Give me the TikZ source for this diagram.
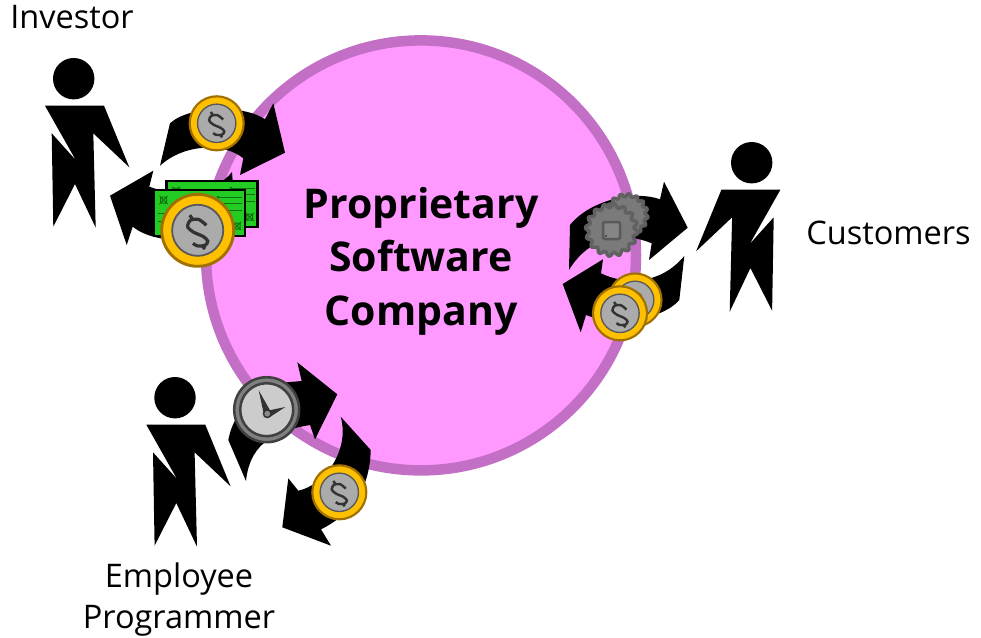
\documentclass[tikz,border=0pt]{standalone}
\usepackage{fontspec}
\setmainfont{Open Sans}
\definecolor{companyfill}{HTML}{FF99FF}
\definecolor{companyline}{HTML}{C36FC6}
\definecolor{coinrim}{HTML}{FFC000}
\definecolor{coinedge}{HTML}{A07000}
\definecolor{billgreen}{HTML}{22CC22}
\definecolor{billink}{HTML}{107010}
\tikzset{
	flowarrow/.style={fill=black},
	labeltext/.style={font=\fontsize{32.5}{41.5}\selectfont,align=center},
	companytext/.style={font=\fontsize{41}{53.5}\selectfont\bfseries,align=center},
	pics/person/.style={code={
		\fill[black] (0,0) circle(20.7);
		\fill[black] (-28.7,27) -- (30.3,27) -- (55.6,88.6) -- (19.6,54.6) -- (22,149) -- (1.3,105.3)
			-- (-20.4,148) -- (-22,54.6) -- (2,81.3) -- cycle;
	}},
	pics/coin/.style={code={
		\begin{scope}[scale=#1]
			\draw[fill=coinrim,draw=coinedge,line width=#1*0.08pt] (0,0) circle(1);
			\draw[fill=black!33,draw=black!65,line width=#1*0.05pt] (0,0) circle(.71);
			\draw[black!80,line width=#1*0.09pt] plot[smooth] coordinates {(.24,-.14) (.03,-.3) (-.2,-.28) (-.28,-.1) (-.12,.05) (.15,.17) (.28,.3) (.2,.42) (-.02,.43) (-.13,.36)};
			\draw[black!80,line width=#1*0.09pt] (-.22,-.42) -- (-.13,-.29) (.13,.43) -- (.2,.52);
		\end{scope}
	}},
	pics/bill/.style={code={
		\draw[fill=billgreen,line width=2.6] (0,0) rectangle (91,46);
		\draw[billink,line width=1] (64,7) -- (88,7) (68,13.5) -- (88,13.5) (71,20) -- (88,20)
			(4,23) -- (12,23) (4,31) -- (12,31);
		\fill[billink] (64,7) circle(1.3);
		\foreach \a/\b in {9.5/10,83/36}
			\draw[billink,line width=1] (\a-3,\b-3) rectangle (\a+3,\b+3) (\a-4,\b-4) -- (\a+4,\b+4) (\a-4,\b+4) -- (\a+4,\b-4);
	}},
	pics/gear/.style={code={
		\draw[fill=black!52,draw=black!62,line width=3.5,line join=round] plot[smooth cycle,domain=0:356,samples=90] (\x:{#1*(.92+.08*sin(16*\x))});
	}}
}
\begin{document}
\begin{tikzpicture}[x=1pt,y=-1pt,>=stealth]
	\useasboundingbox (0,0) rectangle (981,637);
	\draw[fill=companyfill,draw=companyline,line width=10.5] (421,255.4) circle(215);
	% investor arrows
	\fill[flowarrow] (160,165.7) -- (170,123.3) .. controls (190,105) and (245,105) .. (265,119.3) -- (273.3,103.3) -- (285,152.7)
		-- (240,175) -- (243.3,158.3) .. controls (225,143) and (185,143) .. (160,165.7) -- cycle;
	\fill[flowarrow] (110,195.7) -- (153.3,170.7) -- (149.3,186.7) .. controls (170,195) and (215,195) .. (232,172)
		-- (236,225) .. controls (210,245) and (155,245) .. (132.7,226.7) -- (126.7,245) -- cycle;
	% customer arrows
	\fill[flowarrow] (569,270) -- (570,225) .. controls (590,200) and (635,190) .. (660,199.3) -- (664,181.7) -- (687.7,227.7)
		-- (649,260) -- (651.7,243.3) .. controls (625,232) and (590,235) .. (569,270) -- cycle;
	\fill[flowarrow] (562.7,284) -- (603,259.3) -- (601,273.3) .. controls (625,285) and (660,285) .. (684.3,256)
		-- (679.3,300) .. controls (660,322) and (610,325) .. (586,315) -- (580.7,332.3) -- cycle;
	% programmer arrows
	\fill[flowarrow] (246,481) -- (228.3,440) .. controls (235,405) and (265,383) .. (286.7,382.3) -- (301.7,381) -- (297.3,362.3)
		-- (337.3,394.3) -- (315,439.3) -- (310,425) .. controls (280,430) and (250,440) .. (246,481) -- cycle;
	\fill[flowarrow] (340.7,416.7) -- (370.7,450) .. controls (370,490) and (350,515) .. (321,529.3) -- (331,545.7)
		-- (282.3,527.3) -- (288.3,478.3) -- (298.3,490.7) .. controls (325,485) and (350,450) .. (340.7,416.7) -- cycle;
	% people
	\pic at (73.7,78.7) {person};
	\pic[xscale=-1] at (751.7,162.7) {person};
	\pic at (175,397.7) {person};
	% money
	\pic at (166.7,181) {bill};
	\pic at (154,190) {bill};
	\pic at (216.7,123.3) {coin=27};
	\pic at (197.7,230.3) {coin=36};
	\pic at (635,300) {coin=26.5};
	\pic at (620,313.3) {coin=27};
	\pic at (339.3,492.3) {coin=27};
	% software
	\pic at (626.7,215) {gear=21.5};
	\fill[black!70] (631,214) circle(1.5);
	\pic at (611.7,230) {gear=26.5};
	\draw[fill=black!48,draw=black!65,line width=2.5,rounded corners=2] (603,222) rectangle (620,239);
	\fill[black!75] (606,236) circle(1.2);
	% clock
	\draw[fill=black!50,draw=black!75,line width=2.5] (266.7,409.7) circle(32.5);
	\draw[fill=black!20,draw=black!75,line width=2.5] (266.7,409.7) circle(26.5);
	\fill[black!80] (258.7,390.3) -- (271,412) -- (264,415) -- cycle;
	\fill[black!80] (285.3,407) -- (270,417) -- (266,411) -- cycle;
	\draw[fill=black!45,draw=black!80,line width=1.5] (267.3,413.7) circle(3.8);
	% labels
	\node[labeltext] (investor) at (72,17) {Investor};
	\node[labeltext] (customers) at (888.5,233) {Customers};
	\node[labeltext] (programmer) at (179,599.5) {Employee\\Programmer};
	\node[companytext] (company) at (421,261) {Proprietary\\Software\\Company};
\end{tikzpicture}
\end{document}
